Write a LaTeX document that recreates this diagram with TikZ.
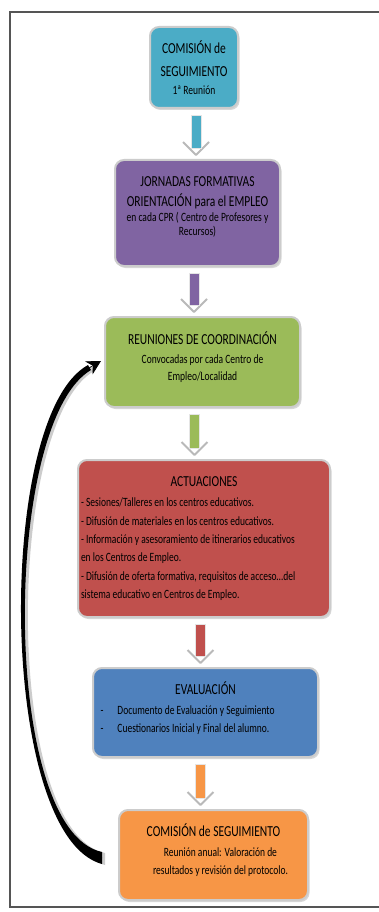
\documentclass[tikz,border=0pt]{standalone}
\usepackage{fontspec}
\setmainfont{Carlito}
\usepackage{graphicx}
\usetikzlibrary{calc,shadows,arrows.meta}

\definecolor{c_aqua}{RGB}{75,172,198}
\definecolor{c_purple}{RGB}{128,100,162}
\definecolor{c_green}{RGB}{155,187,89}
\definecolor{c_red}{RGB}{192,80,77}
\definecolor{c_blue}{RGB}{79,129,189}
\definecolor{c_orange}{RGB}{247,150,70}
\definecolor{c_frame}{RGB}{85,85,85}

\newcommand{\vtext}[3][0pt]{\scalebox{1}[1.33]{\parbox{#2}{#3\par\vspace*{#1}}}}
\newcommand{\titlef}{\fontsize{11.5}{15}\selectfont}
\newcommand{\bodyf}{\fontsize{9.5}{13.5}\selectfont}
\newcommand{\flecha}[4]{%
  \coordinate (fa) at ($(#2.south)+(#4,6)$);
  \coordinate (fb) at ($(fa |- #3.north)+(0,-4)$);
  \fill[white] ($(fb)+(-13,-14)$) -- (fb) -- ($(fb)+(13,-14)$) -- cycle;
  \draw[gray!55, line width=1.8pt, line join=round] ($(fb)+(-13,-13)$) -- (fb) -- ($(fb)+(13,-13)$);
  \fill[#1, draw=gray!20, line width=0.8pt] ($(fa)+(-5,0)$) rectangle ($(fb)+(5,-7)$);
}

\begin{document}
\begin{tikzpicture}[x=1pt, y=-1pt,
  box_node/.style={rounded corners=9pt, draw=white!80!black, line width=2pt, inner sep=0pt,
    drop shadow={shadow xshift=1.5pt, shadow yshift=-2pt, opacity=0.3}}]

    \path[use as bounding box, fill=white] (0,0) rectangle (379,912);
    \draw[c_frame, line width=1.5pt] (381,12) -- (10,12) -- (10,907) -- (381,907);

    \node[box_node, fill=c_aqua, minimum width=88, minimum height=81] (1) at (194,67.5)
      {\vtext{84pt}{\centering{\titlef\fontsize{11.5}{17}\selectfont COMISIÓN de\\SEGUIMIENTO\par}{\bodyf 1ª Reunión\par}}};
    \node[box_node, fill=c_purple, minimum width=165, minimum height=106] (2) at (197.5,213)
      {\vtext[9pt]{160pt}{\centering{\titlef JORNADAS FORMATIVAS\\ORIENTACIÓN para el EMPLEO\par}{\fontsize{9.5}{11}\selectfont en cada CPR ( Centro de Profesores y\\Recursos)\par}}};
    \node[box_node, fill=c_green, minimum width=195, minimum height=90] (3) at (202.5,362)
      {\vtext[7pt]{185pt}{\centering{\titlef REUNIONES DE COORDINACIÓN\par}\vspace{1.5pt}{\bodyf\fontsize{9.5}{12.8}\selectfont Convocadas por cada Centro de\\Empleo/Localidad\par}}};
    \node[box_node, fill=c_red, minimum width=252, minimum height=157] (4) at (204,538.5)
      {\vtext{246pt}{{\centering\titlef ACTUACIONES\par}\vspace{1.5pt}{\fontsize{9.5}{13.8}\selectfont\raggedright
        - Sesiones/Talleres en los centros educativos.\\
        - Difusión de materiales en los centros educativos.\\
        - Información y asesoramiento de itinerarios educativos\\
        en los Centros de Empleo.\\
        - Difusión de oferta formativa, requisitos de acceso…del\\
        sistema educativo en Centros de Empleo.\par}}};
    \node[box_node, fill=c_blue, minimum width=225, minimum height=89] (5) at (205.5,712.5)
      {\vtext[7pt]{210pt}{{\centering\titlef EVALUACIÓN\par}\vspace{1.5pt}{\bodyf\raggedright
        \makebox[17pt][l]{-}Documento de Evaluación y Seguimiento\\
        \makebox[17pt][l]{-}Cuestionarios Inicial y Final del alumno.\par}}};
    \node[box_node, fill=c_orange, minimum width=189, minimum height=90] (6) at (213.5,855)
      {\vtext[7.5pt]{185pt}{{\centering\titlef COMISIÓN de SEGUIMIENTO\par}\vspace{1.5pt}{\centering\bodyf
        \hspace*{14pt}Reunión anual: Valoración de\\
        \hspace*{14pt}resultados y revisión del protocolo.\par}}};

    \flecha{c_aqua}{1}{2}{2}
    \flecha{c_purple}{2}{3}{-3.5}
    \flecha{c_green}{3}{4}{-8}
    \flecha{c_red}{4}{5}{-3.5}
    \flecha{c_orange}{5}{6}{-5}

    \coordinate (lb) at ($(6.west)+(-16,3)$);
    \coordinate (lt) at ($(3.west)+(-3,-1)$);
    \begin{scope}[transform canvas={shift={(3,1)}}]
      \fill[gray!40] ($(lb)+(0,6)$) .. controls ($(lb)+(-104,-22)$) and ($(lt)+(-106,55)$) .. ($(lt)+(-13,4)$)
        -- ($(lt)+(-10,9)$) .. controls ($(lt)+(-99,61)$) and ($(lb)+(-102,-28)$) .. ($(lb)+(0,-6)$) -- cycle;
    \end{scope}
    \fill[black] ($(lb)+(0,6)$) .. controls ($(lb)+(-104,-22)$) and ($(lt)+(-106,55)$) .. ($(lt)+(-13,4)$)
      -- ($(lt)+(-10,9)$) .. controls ($(lt)+(-99,61)$) and ($(lb)+(-102,-28)$) .. ($(lb)+(0,-6)$) -- cycle;
    \draw[line width=0.7pt, -{Stealth[length=14pt, width=15pt]}] (lb) .. controls +(-103,-25) and +(-102,58) .. (lt);

\end{tikzpicture}
\end{document}
